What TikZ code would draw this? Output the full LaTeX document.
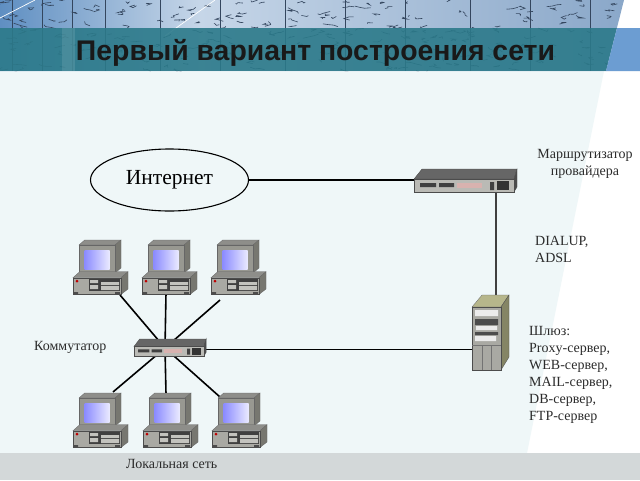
\documentclass[tikz,border=0pt]{standalone}
\usepackage{fontspec}
\usetikzlibrary{shapes.geometric}
\setmainfont{Liberation Serif}
\newfontfamily\headfont{Liberation Sans}
\definecolor{bodytint}{HTML}{EFF7F8}
\definecolor{barteal}{HTML}{2C7A8A}
\definecolor{barblue}{HTML}{6C9DD2}
\definecolor{footgray}{HTML}{D3D8D9}
\definecolor{caseface}{HTML}{A9A9A3}
\definecolor{casetop}{HTML}{8E8E8A}
\definecolor{caseside}{HTML}{777770}
\definecolor{labelgray}{HTML}{2B2B2B}
\definecolor{mapleft}{HTML}{5F8FC2}
\definecolor{mapmid}{HTML}{C6D6E8}
\definecolor{mapright}{HTML}{88A6C8}
\definecolor{mapink}{HTML}{34465E}
\tikzset{
  wire/.style={black,line width=1.6pt},
  labeltext/.style={font=\fontsize{14}{17}\selectfont,text=labelgray,inner sep=0pt},
  mapline/.style={line width=.6pt,mapink},
  pcbox/.pic={
    \draw[fill=casetop,draw=black!60,line width=.3pt] (6,5)--(11.7,0)--(48,0)--(42,5)--cycle;
    \draw[fill=caseside,draw=black!60,line width=.3pt] (42,5)--(48,0)--(48,28)--(42,33)--cycle;
    \draw[fill=caseface!120,draw=black!60,line width=.3pt] (6,5) rectangle (42,33);
    \shade[left color=blue!45!white,right color=blue!8!white] (11.7,10.7) rectangle (36.7,29);
    \draw[fill=casetop,draw=black!60,line width=.3pt] (0,37.7)--(6.7,31.7)--(55,31.7)--(48,37.7)--cycle;
    \draw[fill=caseside,draw=black!60,line width=.3pt] (48,37.7)--(55,31.7)--(55,49)--(48,54.5)--cycle;
    \draw[fill=caseface,draw=black!70,line width=.3pt] (0,37.7) rectangle (48,54.5);
    \fill[red!75!black] (4,41) circle (1.5);
    \fill[black!75] (16,38.5) rectangle (47,51);
    \fill[caseface!70] (17,40) rectangle (25,43) (17,45) rectangle (25,49) (28,42) rectangle (46,45) (28,46) rectangle (46,50);
    \fill[black!70] (1,52) rectangle (5,54.5) (42,52) rectangle (47,54.5);
  },
  boxunit/.pic={
    \draw[fill=black!60,draw=black!70,line width=.3pt] (0,10)--(8,0)--(103,0)--(100,10)--cycle;
    \draw[fill=black!70,draw=black!70,line width=.3pt] (100,10)--(103,0)--(103,18)--(100,23)--cycle;
    \draw[fill=caseface!80,draw=black!70,line width=.3pt] (0,10) rectangle (100,23);
    \fill[black!75] (6,14) rectangle (22,18) (25,14) rectangle (40,18) (76,13) rectangle (80,21);
    \fill[red!25!caseface!60] (43,14) rectangle (68,19);
    \fill[black!80] (83,12) rectangle (95,21);
  },
  tower/.pic={
    \draw[fill=caseface!85!yellow,draw=black!60,line width=.3pt] (0,12)--(10,0)--(37,0)--(29,12)--cycle;
    \draw[fill=caseside!90!yellow,draw=black!70,line width=.3pt] (29,12)--(37,0)--(37,62)--(29,75)--cycle;
    \draw[fill=caseface,draw=black!70,line width=.3pt] (0,12) rectangle (29,75);
    \fill[black!70] (3,24) rectangle (26,30) (3,37) rectangle (26,40);
    \fill[white!85!gray] (3,15) rectangle (26,21) (4,31) rectangle (25,35) (3,41) rectangle (24,46);
    \draw[black!55,line width=.4pt] (10,50)--(10,75) (19,50)--(19,75) (0,50)--(29,50);
  }
}
\begin{document}
\begin{tikzpicture}[x=1pt,y=-1pt]
\useasboundingbox (0,0) rectangle (640,480);
\fill[white] (0,0) rectangle (640,480);
\fill[bodytint] (0,71)--(604,71)--(527,453)--(0,453)--cycle;
\fill[footgray] (0,453) rectangle (640,480);
% map strip
\begin{scope}
\clip (0,0)--(624,0)--(606,71)--(0,71)--cycle;
\shade[left color=mapleft,right color=mapmid] (0,0) rectangle (200,71);
\shade[left color=mapmid,right color=mapright] (200,0) rectangle (640,71);
\pgfmathsetseed{11}
\foreach \i in {1,...,260}{
  \pgfmathsetmacro\mapx{rnd*620}
  \pgfmathsetmacro\mapy{rnd*71}
  \draw[mapline] (\mapx,\mapy)--++(rnd*12-6,rnd*4-2)--++(rnd*12-6,rnd*4-2)--++(rnd*12-6,rnd*4-2);
}
\foreach \mx in {12,42,72,105,160,220,285,345,405,470,530,590}
  \draw[mapink,line width=.4pt] (\mx,0)--(\mx,71);
\draw[white,line width=.7pt] (0,18)--(35,0) (165,36)--(215,0);
\fill[barteal,fill opacity=.9] (0,28) rectangle (640,71);
\fill[white,fill opacity=.1] (62,28) rectangle (75,71);
\end{scope}
\fill[barblue] (617,28)--(640,28)--(640,71)--(606,71)--cycle;
\node[font=\headfont\bfseries\fontsize{28.4}{32}\selectfont,text=black!90,inner sep=0pt] (title) at (315.5,52.5) {Первый вариант построения сети};
% attachment points of the wires
\coordinate (hub) at (165,348);
\coordinate (pca) at (120,295);
\coordinate (pcb) at (166,293);
\coordinate (pcc) at (220,300);
\coordinate (pcd) at (113,392);
\coordinate (pce) at (166,394);
\coordinate (pcf) at (220,397);
\coordinate (swout) at (204,349.5);
\coordinate (srvin) at (474,349.5);
\coordinate (srvtop) at (496,300);
\node[draw=black,line width=1.1pt,ellipse,minimum width=158pt,minimum height=62pt,inner sep=0pt,fill=bodytint,font=\fontsize{21.5}{26}\selectfont] (inet) at (169.5,180) {\raisebox{-1pt}{Интернет}};
\coordinate (rtr) at (420,180);
\coordinate (rtrout) at (496,185);
\foreach \pcn in {pca,pcb,pcc,pcd,pce,pcf}
  \draw[wire] (\pcn)--(hub);
\draw[wire] (swout)--(srvin);
\draw[wire] (inet.east)--(rtr);
\draw[wire,black!75] (rtrout)--(srvtop);
\foreach \cx/\cy in {73/240,142/240,211/240,73/393,143/393,212/393}
  \pic at (\cx,\cy) {pcbox};
\pic at (414,169) {boxunit};
\pic[xscale=.7,yscale=.74] at (134,339) {boxunit};
\pic at (472,295) {tower};
\node[labeltext,align=center] (lbrouter) at (585,164) {Маршрутизатор\\провайдера};
\node[labeltext,align=left,anchor=west] (lbdial) at (535,249.5) {DIALUP,\\ADSL};
\node[labeltext,align=left,anchor=west] (lbgate) at (529,374.5) {Шлюз:\\Proxy-сервер,\\WEB-сервер,\\MAIL-сервер,\\DB-сервер,\\FTP-сервер};
\node[labeltext,anchor=west] (lbswitch) at (34,347) {Коммутатор};
\node[labeltext,anchor=west] (lblan) at (126,464) {Локальная сеть};
\end{tikzpicture}
\end{document}
